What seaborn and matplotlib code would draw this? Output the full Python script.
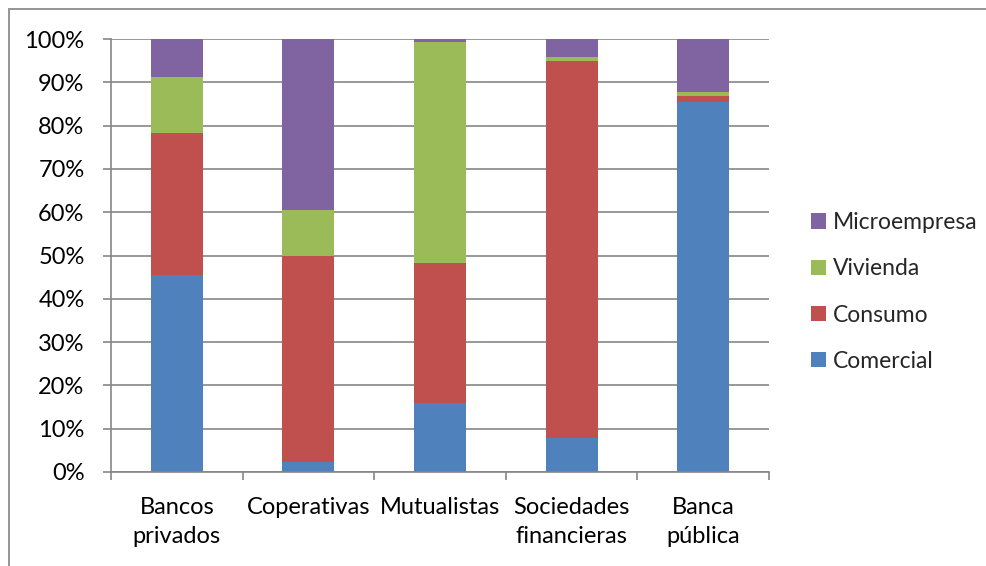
import numpy as np
import pandas as pd
import matplotlib
matplotlib.use("Agg")
import matplotlib.pyplot as plt
from matplotlib.patches import Patch, Rectangle
from matplotlib.ticker import PercentFormatter
import seaborn as sns

# Shares of the loan portfolio by segment (percent)
entidades = ["Bancos\nprivados", "Coperativas", "Mutualistas", "Sociedades\nfinancieras", "Banca\npública"]
comercial = [45.5, 2.2, 15.9, 7.8, 85.4]
consumo = [32.8, 47.8, 32.3, 87.2, 1.5]
vivienda = [12.9, 10.5, 51.2, 0.9, 0.9]
microempresa = [8.8, 39.5, 0.6, 4.1, 12.2]

series_names = ["Comercial", "Consumo", "Vivienda", "Microempresa"]
series_colors = ["#4F81BD", "#C0504D", "#9BBB59", "#8064A2"]

sns.set_style("white")
plt.rcParams["font.family"] = ["Lato", "DejaVu Sans"]

df = pd.DataFrame({"Entidad": entidades, "Comercial": comercial, "Consumo": consumo,
                   "Vivienda": vivienda, "Microempresa": microempresa})
cum = df[series_names].cumsum(axis=1)

fig = plt.figure(figsize=(9.87, 5.66), dpi=100)
ax = fig.add_axes([111 / 987, 1 - 472 / 566, (769 - 111) / 987, (472 - 39) / 566])

grid_c = "#868686"
ax.set_axisbelow(True)
ax.yaxis.grid(True, color=grid_c, linewidth=1.2)

# Stacked bars: draw cumulative totals from the top segment down
for name, color in reversed(list(zip(series_names, series_colors))):
    sns.barplot(x=df["Entidad"], y=cum[name], color=color, width=0.395,
                saturation=1, ax=ax, linewidth=0, order=entidades)

ax.set_xlim(-0.5, 4.5)
ax.set_ylim(0, 100)
ax.set_yticks(np.arange(0, 101, 10))
ax.yaxis.set_major_formatter(PercentFormatter(decimals=0))
ax.set_xlabel("")
ax.set_ylabel("")

for s in ["top", "right"]:
    ax.spines[s].set_visible(False)
for s in ["left", "bottom"]:
    ax.spines[s].set_color(grid_c)
    ax.spines[s].set_linewidth(1.2)

ax.set_xticks(np.arange(-0.5, 4.6, 1), minor=True)
ax.tick_params(axis="x", which="major", length=0, pad=18, labelsize=17, labelcolor="black")
ax.tick_params(axis="x", which="minor", length=6, width=1.2, color=grid_c, direction="out")
ax.tick_params(axis="y", length=6, width=1.2, color=grid_c, direction="out", pad=13,
               labelsize=17, labelcolor="black", left=True)
ax.tick_params(axis="x", which="minor", bottom=True)
for lbl in ax.get_xticklabels():
    lbl.set_linespacing(1.45)

handles = [Patch(facecolor=c, edgecolor="none") for c in series_colors][::-1]
labels = series_names[::-1]
fig.legend(handles, labels, loc="center left", bbox_to_anchor=(811 / 987, 1 - 292 / 566),
           frameon=False, fontsize=16.5, handlelength=0.65, handleheight=0.65,
           handletextpad=0.3, labelspacing=1.1, borderpad=0, borderaxespad=0)

# Title sits above the chart frame
fig.text(499 / 987, 1 + 4 / 566, "(expresado en porcentaje)", ha="center", va="baseline",
         fontsize=18, fontweight="bold")

# Chart frame
fig.add_artist(Rectangle((9 / 987, -0.1), 1.2, (566 - 9) / 566 + 0.1, transform=fig.transFigure,
                         fill=False, edgecolor="#8C8C8C", linewidth=1.3))

fig.savefig("out.png", dpi=100)
